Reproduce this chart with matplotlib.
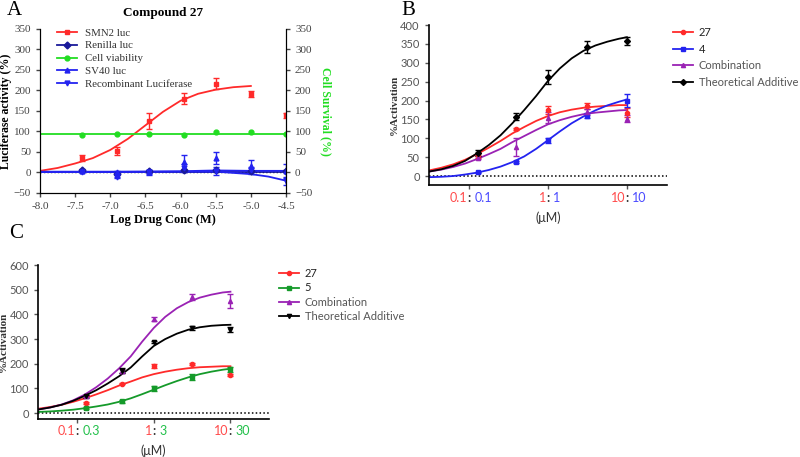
import matplotlib
matplotlib.use("Agg")
import matplotlib.pyplot as plt
import matplotlib.transforms as mtransforms
from matplotlib.lines import Line2D

# ---------------- Panel A data ----------------
a_x = [-7.4, -6.9, -6.45, -5.95, -5.5, -5.0, -4.5]
smn2 = [35, 52, 125, 180, 217, 191, 140]
smn2_err = [8, 10, 20, 14, 14, 7, 6]
renilla = [5, -3, 3, 5, 5, 3, 3]
renilla_err = [3, 2, 4, 4, 4, 3, 3]
viability = [91, 95, 93, 91, 99, 98, 95]
sv40 = [3, 2, 0, 25, 35, 15, 3]
sv40_err = [3, 2, 5, 18, 15, 15, 17]
recomb = [2, -12, 2, 10, 3, 5, -20]
recomb_err = [2, 2, 3, 10, 10, 8, 10]

a_curve_x = [-8, -7.75, -7.5, -7.25, -7, -6.75, -6.5, -6.25, -6, -5.75, -5.5, -5.25, -5]
smn2_curve = [4, 11, 22, 35, 55, 82, 115, 148, 175, 192, 202, 208, 211]
a_blue_x = [-8, -7, -6, -5.5, -5.0, -4.75, -4.5]
renilla_curve = [2, 2, 2, 2, 2, 2, 2]
sv40_curve = [2, 2, 3, 5, 4, 4, 4]
recomb_curve = [1, 1, 2, 2, -4, -10, -20]
via_curve_x = [-8, -4.5]
via_curve = [95, 95]

# ---------------- Panel B / C data ----------------
conc = [0.13, 0.39, 1, 3.16, 10]
curve_conc = [0.0316, 0.0447, 0.0631, 0.0891, 0.126, 0.178, 0.251, 0.355, 0.501,
              0.708, 1.0, 1.41, 2.0, 2.82, 3.98, 5.62, 7.94, 10.0]

b27 = [55, 125, 175, 185, 168]
b27_err = [6, 3, 10, 8, 12]
b4 = [10, 37, 95, 160, 200]
b4_err = [2, 3, 7, 7, 17]
bcomb = [48, 78, 155, 170, 152]
bcomb_err = [4, 24, 15, 8, 10]
badd = [62, 157, 263, 342, 358]
badd_err = [8, 9, 18, 16, 10]
b27_curve = [15, 22, 31, 43, 58, 75, 93, 113, 130, 146, 159, 169, 176, 181, 184, 186, 188, 188]
b4_curve = [-3, -2, 0, 4, 9, 16, 25, 37, 52, 72, 95, 118, 140, 158, 174, 187, 197, 203]
bcomb_curve = [12, 17, 24, 33, 45, 58, 72, 90, 106, 122, 137, 148, 157, 164, 168, 171, 174, 175]
badd_curve = [12, 18, 27, 40, 60, 82, 108, 140, 175, 212, 252, 285, 312, 332, 346, 356, 364, 368]

c27 = [40, 120, 190, 200, 155]
c27_err = [4, 3, 8, 3, 4]
c5 = [20, 48, 100, 148, 178]
c5_err = [4, 7, 10, 12, 10]
ccomb = [70, 170, 380, 470, 455]
ccomb_err = [5, 8, 8, 12, 28]
cadd = [68, 172, 290, 345, 338]
cadd_err = [5, 9, 4, 10, 10]
c27_curve = [18, 25, 34, 46, 60, 76, 93, 112, 128, 145, 158, 168, 176, 182, 186, 188, 190, 190]
c5_curve = [5, 7, 10, 14, 20, 27, 35, 46, 60, 77, 95, 113, 130, 145, 158, 168, 176, 180]
ccomb_curve = [15, 23, 35, 52, 75, 105, 140, 182, 230, 290, 345, 390, 425, 450, 468, 480, 489, 492]
cadd_curve = [15, 23, 34, 50, 70, 93, 120, 150, 185, 230, 272, 300, 322, 338, 348, 354, 357, 358]

b_ticks = [0.1, 1, 10]
b_left = ["0.1", "1", "10"]
b_right = ["0.1", "1", "10"]
c_left = ["0.1", "1", "10"]
c_right = ["0.3", "3", "30"]

RED = "#ff2a2a"
BLUE = "#2323f0"
NAVY = "#1a1a9a"
GREEN = "#22dd22"
DGREEN = "#159a2a"
PURPLE = "#9a22b4"
TRED = "#ff4a4a"
TBLUE = "#4a4aff"
TGREEN = "#22c04a"

SERIF = "Liberation Serif"
SANS = "Lato"

fig = plt.figure(figsize=(8, 4.57), dpi=100)

# ================= Panel A =================
axA = fig.add_axes([0.05, 0.5777, 0.3075, 0.3589])
axA.plot(a_curve_x, smn2_curve, color=RED, lw=1.3)
axA.plot(via_curve_x, via_curve, color=GREEN, lw=1.3)
axA.plot(a_blue_x, renilla_curve, color=NAVY, lw=1.3)
axA.plot(a_blue_x, sv40_curve, color=BLUE, lw=1.3)
axA.plot(a_blue_x, recomb_curve, color=BLUE, lw=1.3)
axA.axhline(0, color="black", lw=1, ls=(0, (1, 1.5)), zorder=1)
ek = dict(capsize=2, elinewidth=1, capthick=1, ls="none", ms=3.5)
axA.errorbar(a_x, smn2, yerr=smn2_err, marker="s", color=RED, **ek)
axA.errorbar(a_x, renilla, yerr=renilla_err, marker="D", color=NAVY, **ek)
axA.plot(a_x, viability, marker="o", color=GREEN, ls="none", ms=3.5)
axA.errorbar(a_x, sv40, yerr=sv40_err, marker="^", color=BLUE, **ek)
axA.errorbar(a_x, recomb, yerr=recomb_err, marker="v", color=BLUE, **ek)
axA.set_xlim(-8, -4.5)
axA.set_ylim(-50, 350)
axA.set_xticks([-8.0, -7.5, -7.0, -6.5, -6.0, -5.5, -5.0, -4.5])
axA.set_xticklabels(["-8.0", "-7.5", "-7.0", "-6.5", "-6.0", "-5.5", "-5.0", "-4.5"])
axA.set_yticks(range(-50, 351, 50))
axA.spines["top"].set_visible(False)
axA.tick_params(labelsize=8, length=3, width=1, colors="#444444")
for lab in axA.get_xticklabels() + axA.get_yticklabels():
    lab.set_family(SERIF)
axA.set_xlabel("Log Drug Conc (M)", family=SERIF, fontweight="bold", fontsize=9, labelpad=2)
axA.set_ylabel("Luciferase activity (%)", family=SERIF, fontweight="bold", fontsize=8.5, labelpad=1)
axA.set_title("Compound 27", family=SERIF, fontweight="bold", fontsize=9.5, pad=9)
a_handles = [Line2D([], [], color=c, marker=m, ms=3.5, lw=1.3)
             for c, m in [(RED, "s"), (NAVY, "D"), (GREEN, "o"), (BLUE, "^"), (BLUE, "v")]]
legA = axA.legend(a_handles,
                  ["SMN2 luc", "Renilla luc", "Cell viability", "SV40 luc", "Recombinant Luciferase"],
                  loc="upper left", bbox_to_anchor=(0.03, 1.065), frameon=False,
                  prop={"family": SERIF, "size": 7.8}, handlelength=1.8, labelspacing=0.3,
                  handletextpad=0.8)
for txt in legA.get_texts():
    txt.set_color("#333333")
axA2 = axA.twinx()
axA2.set_ylim(-50, 350)
axA2.set_yticks(range(-50, 351, 50))
axA2.spines["top"].set_visible(False)
axA2.tick_params(labelsize=8, length=3, width=1, colors="#444444")
for lab in axA2.get_yticklabels():
    lab.set_family(SERIF)
axA2.set_ylabel("Cell Survival (%)", family=SERIF, fontweight="bold", fontsize=8.5,
                color=GREEN, rotation=-90, labelpad=14)
fig.text(0.008, 0.998, "A", family=SERIF, fontsize=15, va="top")


def combo_panel(ax, series, ymax, yticks, left_lab, right_lab, right_col, names,
                leg_x, leg_y, leg_sp):
    for cy, col, mk, ey, ee in series:
        ax.plot(curve_conc, cy, color=col, lw=1.3)
    for cy, col, mk, ey, ee in series:
        ax.errorbar(conc, ey, yerr=ee, marker=mk, color=col,
                    capsize=2, elinewidth=1, capthick=1, ls="none", ms=3)
    ax.axhline(0, color="black", lw=1.1, ls=(0, (1, 1.5)), zorder=1)
    ax.set_xscale("log")
    ax.set_xlim(0.031, 32)
    ax.set_ylim(-24, ymax)
    ax.set_yticks(yticks)
    ax.set_xticks(b_ticks)
    ax.set_xticklabels(["", "", ""])
    ax.minorticks_off()
    ax.spines["top"].set_visible(False)
    ax.spines["right"].set_visible(False)
    ax.spines["left"].set_linewidth(1.2)
    ax.spines["bottom"].set_linewidth(1.2)
    ax.tick_params(labelsize=8, length=3, width=1, colors="#555555")
    for lab in ax.get_yticklabels():
        lab.set_family(SANS)
    trans = mtransforms.blended_transform_factory(ax.transData, ax.transAxes)
    for t, l, r in zip(b_ticks, left_lab, right_lab):
        off_l = mtransforms.offset_copy(trans, fig=fig, x=-1.1, y=0, units="points")
        off_r = mtransforms.offset_copy(trans, fig=fig, x=3.8, y=0, units="points")
        ax.text(t, -0.08, l, transform=off_l, ha="right", va="center",
                color=TRED, fontsize=9, family=SANS)
        ax.text(t, -0.08, ":", transform=trans, ha="center", va="center",
                color="#333333", fontsize=9, family=SANS, fontweight="bold")
        ax.text(t, -0.08, r, transform=off_r, ha="left", va="center",
                color=right_col, fontsize=9, family=SANS)
    ax.text(1, -0.205, "(\u03bcM)", transform=trans, ha="center", va="center",
            fontsize=9, family=SANS, color="#333333")
    ax.set_ylabel("%Activation", family=SERIF, fontweight="bold", fontsize=8,
                  color="#333333", labelpad=1)
    handles = [Line2D([], [], color=col, marker=mk, ms=3, lw=1.3)
               for cy, col, mk, ey, ee in series]
    leg = ax.legend(handles, names, loc="upper left", bbox_to_anchor=(leg_x, leg_y),
                    frameon=False, prop={"family": SANS, "size": 8}, handlelength=1.8,
                    labelspacing=leg_sp, handletextpad=0.5)
    for txt in leg.get_texts():
        txt.set_color("#555555")
    leg.get_texts()[0].set_color("#222222")
    leg.get_texts()[1].set_color("#222222")


# ================= Panel B =================
axB = fig.add_axes([0.536, 0.595, 0.2975, 0.350])
combo_panel(axB,
            [(b27_curve, RED, "o", b27, b27_err),
             (b4_curve, BLUE, "s", b4, b4_err),
             (bcomb_curve, PURPLE, "^", bcomb, bcomb_err),
             (badd_curve, "black", "D", badd, badd_err)],
            400, range(0, 401, 50), b_left, b_right, TBLUE,
            ["27", "4", "Combination", "Theoretical Additive"], 0.985, 1.05, 0.5)
fig.text(0.502, 0.998, "B", family=SERIF, fontsize=15, va="top")

# ================= Panel C =================
axC = fig.add_axes([0.0475, 0.083, 0.289, 0.337])
combo_panel(axC,
            [(c27_curve, RED, "o", c27, c27_err),
             (c5_curve, DGREEN, "s", c5, c5_err),
             (ccomb_curve, PURPLE, "^", ccomb, ccomb_err),
             (cadd_curve, "black", "v", cadd, cadd_err)],
            600, range(0, 601, 100), c_left, c_right, TGREEN,
            ["27", "5", "Combination", "Theoretical Additive"], 1.0, 1.045, 0.3)
fig.text(0.012, 0.51, "C", family=SERIF, fontsize=15, va="top")

fig.savefig("out.png", dpi=100)
